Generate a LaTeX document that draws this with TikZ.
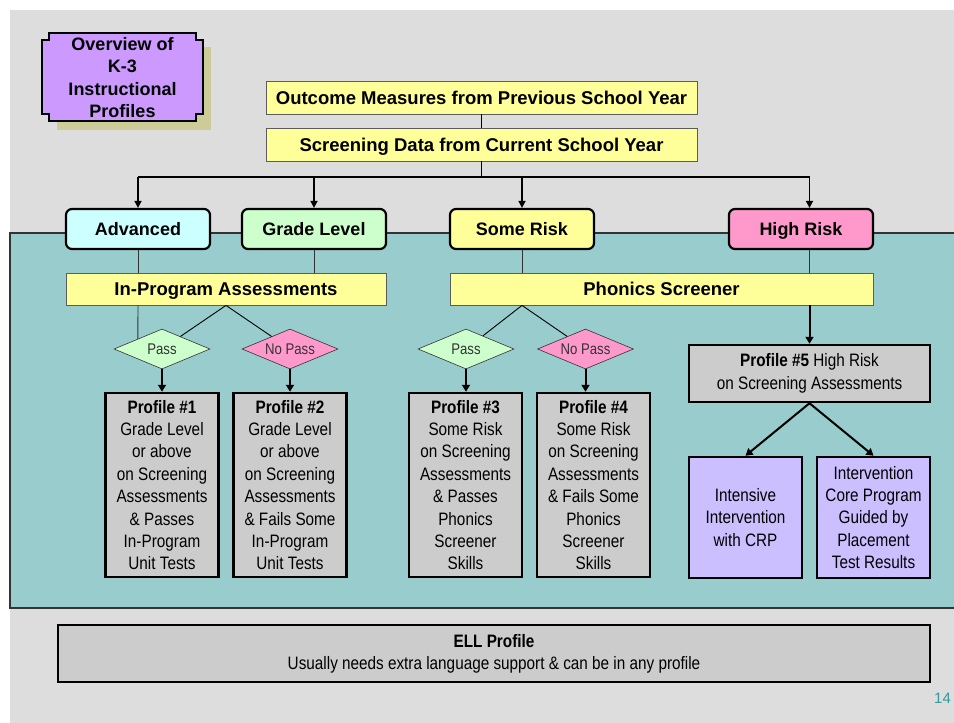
\documentclass[tikz,border=0pt]{standalone}
\usepackage{fontspec}
\setmainfont{Liberation Sans}
\newfontfamily\narrowfont[FakeStretch=0.85]{Liberation Sans}
\usetikzlibrary{shapes.geometric,arrows.meta}

\definecolor{bggray}{HTML}{DDDDDD}
\definecolor{tealbg}{HTML}{99CCCC}
\definecolor{hdryellow}{HTML}{FFFF99}
\definecolor{advcyan}{HTML}{CCFFFF}
\definecolor{gradegreen}{HTML}{CCFFCC}
\definecolor{riskpink}{HTML}{FF99CC}
\definecolor{profgray}{HTML}{CCCCCC}
\definecolor{titlepurple}{HTML}{CC99FF}
\definecolor{lavender}{HTML}{CCBFFF}
\definecolor{shadowolive}{HTML}{CCCC99}
\definecolor{pagenum}{HTML}{339999}
\definecolor{linegray}{HTML}{333333}

\begin{document}
\begin{tikzpicture}[x=1pt,y=-1pt,
  hdrbox/.style={draw=linegray!80, line width=0.8pt, fill=hdryellow, minimum height=33pt,
    inner sep=0pt, text height=13.2pt, text depth=0pt,
    font=\bfseries\fontsize{18.5}{22}\selectfont},
  catbox/.style={draw=black, line width=2.2pt, rounded corners=6pt, minimum width=144pt,
    minimum height=40pt, inner sep=0pt, text height=13pt, text depth=0pt,
    font=\bfseries\fontsize{18}{22}\selectfont},
  choice/.style={diamond, shape aspect=2.4, draw=linegray, line width=0.6pt, minimum width=96pt,
    minimum height=40pt, inner sep=0pt, text height=11pt, text depth=0pt, text=linegray,
    font=\narrowfont\fontsize{15.5}{18}\selectfont},
  profbox/.style={draw=black, line width=2.5pt, fill=profgray, inner sep=0pt, align=center,
    minimum width=113pt, font=\narrowfont\fontsize{18}{22.4}\selectfont},
  buswire/.style={line width=1.6pt, draw=black},
  link/.style={line width=0.9pt, draw=linegray},
  arr/.style={-{Triangle[length=7pt,width=7pt]}, line width=1.6pt},
  bigarr/.style={-{Triangle[length=7pt,width=8pt]}, line width=2pt}
]
\useasboundingbox (0,0) rectangle (954,723);
\fill[white] (0,0) rectangle (954,723);
% backgrounds
\fill[bggray] (10,10) rectangle (954,723);
\fill[tealbg] (10,233) rectangle (960,608);
\draw[linegray, line width=1.2pt] (960,233) -- (10,233) -- (10,608) -- (960,608);

% title plaque with shadow
\fill[shadowolive] (57,47) rectangle (211,130);
\filldraw[fill=titlepurple, draw=black, line width=2.2pt]
  (49,33) -- (196,33) -- (196,40) -- (203,40) -- (203,114) -- (196,114) -- (196,121)
  -- (49,121) -- (49,114) -- (42,114) -- (42,40) -- (49,40) -- cycle;
\node[align=center, font=\bfseries\fontsize{18}{22.3}\selectfont] (title) at (122.5,77.5)
  {Overview of\\K-3\\Instructional\\Profiles};

% top headers
\node[hdrbox, minimum width=431pt] (outcome) at (481.5,97.5) {Outcome Measures from Previous School Year};
\node[hdrbox, minimum width=431pt] (screen) at (481.5,144.5) {Screening Data from Current School Year};

% categories
\node[catbox, fill=advcyan] (adv) at (138,229) {Advanced};
\node[catbox, fill=gradegreen] (grade) at (314,229) {Grade Level};
\node[catbox, fill=hdryellow] (some) at (522,229) {Some Risk};
\node[catbox, fill=riskpink] (high) at (801,229) {High Risk};

% second-level headers
\node[hdrbox, minimum width=320pt, minimum height=32pt] (ipa) at (226,289) {In-Program Assessments};
\node[hdrbox, minimum width=423pt, minimum height=32pt] (phon) at (661.5,289) {Phonics Screener};

% decisions
\node[choice, fill=gradegreen] (pass1) at (162,349) {Pass};
\node[choice, fill=riskpink] (nopass1) at (290,349) {No Pass};
\node[choice, fill=gradegreen] (pass2) at (466,349) {Pass};
\node[choice, fill=riskpink] (nopass2) at (585.5,349) {No Pass};

% profiles
\node[profbox, minimum height=184pt] (prof1) at (162,485)
  {\textbf{Profile \#1}\\Grade Level\\or above\\on Screening\\Assessments\\\& Passes\\In-Program\\Unit Tests};
\node[profbox, minimum height=184pt] (prof2) at (290,485)
  {\textbf{Profile \#2}\\Grade Level\\or above\\on Screening\\Assessments\\\& Fails Some\\In-Program\\Unit Tests};
\node[profbox, minimum height=184pt] (prof3) at (465.5,485)
  {\textbf{Profile \#3}\\Some Risk\\on Screening\\Assessments\\\& Passes\\Phonics\\Screener\\Skills};
\node[profbox, minimum height=184pt] (prof4) at (593.5,485)
  {\textbf{Profile \#4}\\Some Risk\\on Screening\\Assessments\\\& Fails Some\\Phonics\\Screener\\Skills};
\node[profbox, minimum width=241pt, minimum height=57pt] (prof5) at (809.5,373.5)
  {\textbf{Profile \#5} High Risk\\on Screening Assessments};
\node[profbox, fill=lavender, minimum height=121pt] (int1) at (745.5,517.5)
  {Intensive\\Intervention\\with CRP};
\node[profbox, fill=lavender, minimum height=121pt] (int2) at (873.5,517.5)
  {Intervention\\Core Program\\Guided by\\Placement\\Test Results};

% ELL note
\node[profbox, minimum width=872pt, minimum height=57pt, font=\narrowfont\fontsize{18}{22}\selectfont] (ell) at (494,653.5)
  {\textbf{ELL Profile}\\Usually needs extra language support \& can be in any profile};

% page number
\node[anchor=west, text=pagenum, inner sep=0pt, font=\fontsize{15}{18}\selectfont] (pnum) at (934,698) {14};

% top connectors
\coordinate (bus) at (481.5,177);
\draw[buswire] (outcome.south) -- (screen.north);
\draw[buswire] (screen.south) -- (bus);
\draw[buswire] (bus -| adv.north) -- (bus -| prof5.north);
\draw[arr] (bus -| adv.north) -- (adv.north);
\draw[arr] (bus -| grade.north) -- (grade.north);
\draw[arr] (bus -| some.north) -- (some.north);
\draw[arr] (bus -| prof5.north) -- (high.north -| prof5.north);

% category to assessment links
\draw[link] (adv.south) -- (ipa.north -| adv.south);
\draw[link] (ipa.south -| adv.south) -- (pass1.north west);
\draw[link] (grade.south) -- (ipa.north -| grade.south);
\draw[link] (some.south) -- (phon.north -| some.south);
\draw[link] (high.south -| prof5.north) -- (phon.north -| prof5.north);

% splits to decisions
\draw[link, draw=black] (ipa.south) -- (pass1);
\draw[link, draw=black] (ipa.south) -- (nopass1);
\draw[link, draw=black] (phon.south -| some.south) -- (pass2);
\draw[link, draw=black] (phon.south -| some.south) -- (nopass2);

% decisions to profiles
\draw[bigarr] (pass1.south) -- (prof1.north -| pass1.south);
\draw[bigarr] (nopass1.south) -- (prof2.north -| nopass1.south);
\draw[bigarr] (pass2.south) -- (prof3.north -| pass2.south);
\draw[bigarr] (nopass2.south) -- (prof4.north -| nopass2.south);
\draw[bigarr] (phon.south -| prof5.north) -- (prof5.north);
\draw[bigarr] (prof5.south) -- (int1.north);
\draw[bigarr] (prof5.south) -- (int2.north);
\end{tikzpicture}
\end{document}
